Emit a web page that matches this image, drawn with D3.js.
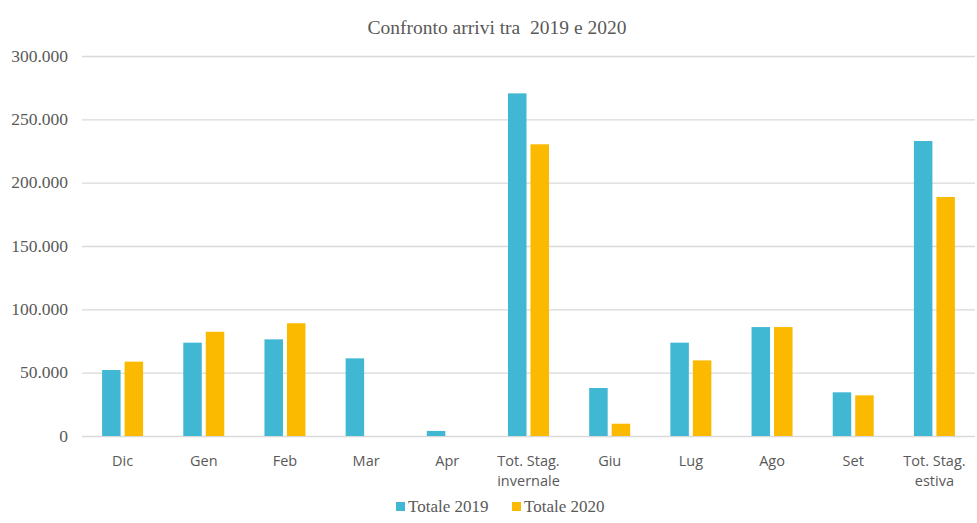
<html>
<head>
<script src="https://d3js.org/d3.v7.min.js"></script>
<style>
  body { margin: 0; background: #fff; }
  .grid line { stroke: #d9d9d9; stroke-width: 1.3; }
  .grid .domain { display: none; }
</style>
</head>
<body>
<svg id="chart" width="977" height="523"></svg>
<script>
// data
const categories = ["Dic", "Gen", "Feb", "Mar", "Apr", "Tot. Stag.|invernale", "Giu", "Lug", "Ago", "Set", "Tot. Stag.|estiva"];
const totale2019 = [52100, 73700, 76300, 61300, 4000, 270500, 37900, 73700, 86000, 34500, 232900];
const totale2020 = [58700, 82300, 89000, 0, 0, 230300, 9700, 59700, 86000, 32100, 188700];
const seriesNames = ["Totale 2019", "Totale 2020"];
const colors = ["#41b8d3", "#fbba00"];
const yTicks = [0, 50000, 100000, 150000, 200000, 250000, 300000];

const svg = d3.select("#chart");
const margin = {top: 56, right: 2, bottom: 87, left: 82};
const W = 977, H = 523;
const innerW = W - margin.left - margin.right;
const innerH = H - margin.top - margin.bottom;

const g = svg.append("g").attr("transform", "translate(" + margin.left + "," + margin.top + ")");

const x = d3.scaleBand().domain(categories).range([0, innerW]).padding(0);
const y = d3.scaleLinear().domain([0, 300000]).range([innerH, 0]);

const fmt = v => v === 0 ? "0" : d3.format(",")(v).replace(/,/g, ".");

// gridlines
g.append("g").attr("class", "grid")
  .call(d3.axisLeft(y).tickValues(yTicks).tickSize(-innerW).tickFormat(""));

// y labels
g.selectAll("text.ylab").data(yTicks).join("text")
  .attr("class", "ylab")
  .attr("x", -14).attr("y", d => y(d) + 5.5)
  .attr("text-anchor", "end")
  .attr("font-family", "Liberation Serif, Times New Roman, serif")
  .attr("font-size", 17.5)
  .attr("fill", "#595959")
  .text(fmt);

const barW = 18.5, gap = 4;
const series = [totale2019, totale2020];
series.forEach((vals, si) => {
  g.selectAll("rect.s" + si).data(vals).join("rect")
    .attr("class", "s" + si)
    .attr("x", (d, i) => x(categories[i]) + x.bandwidth() / 2 + (si === 0 ? -gap / 2 - barW : gap / 2))
    .attr("y", d => y(d))
    .attr("width", barW)
    .attr("height", d => innerH - y(d))
    .attr("fill", colors[si]);
});

// x labels, one text per line
const xLines = [];
categories.forEach(c => c.split("|").forEach((p, i) => xLines.push({cat: c, text: p, line: i})));
g.selectAll("text.xlab").data(xLines).join("text")
  .attr("class", "xlab")
  .attr("x", d => x(d.cat) + x.bandwidth() / 2)
  .attr("y", d => innerH + 30 + d.line * 19.5)
  .attr("text-anchor", "middle")
  .attr("font-family", "Open Sans, Liberation Sans, sans-serif")
  .attr("font-size", 14.5)
  .attr("fill", "#595959")
  .text(d => d.text);

// title
svg.append("text")
  .attr("x", 497).attr("y", 34)
  .attr("text-anchor", "middle")
  .style("white-space", "pre")
  .attr("font-family", "Liberation Serif, Times New Roman, serif")
  .attr("font-size", 19.5)
  .attr("fill", "#595959")
  .text("Confronto arrivi tra  2019 e 2020");

// legend
const legX = [396, 512];
seriesNames.forEach((name, i) => {
  svg.append("rect").attr("x", legX[i]).attr("y", 502).attr("width", 9).attr("height", 9).attr("fill", colors[i]);
  svg.append("text").attr("x", legX[i] + 12).attr("y", 512)
    .attr("font-family", "Liberation Serif, Times New Roman, serif")
    .attr("font-size", 17)
    .attr("fill", "#595959")
    .text(name);
});
</script>
</body>
</html>
